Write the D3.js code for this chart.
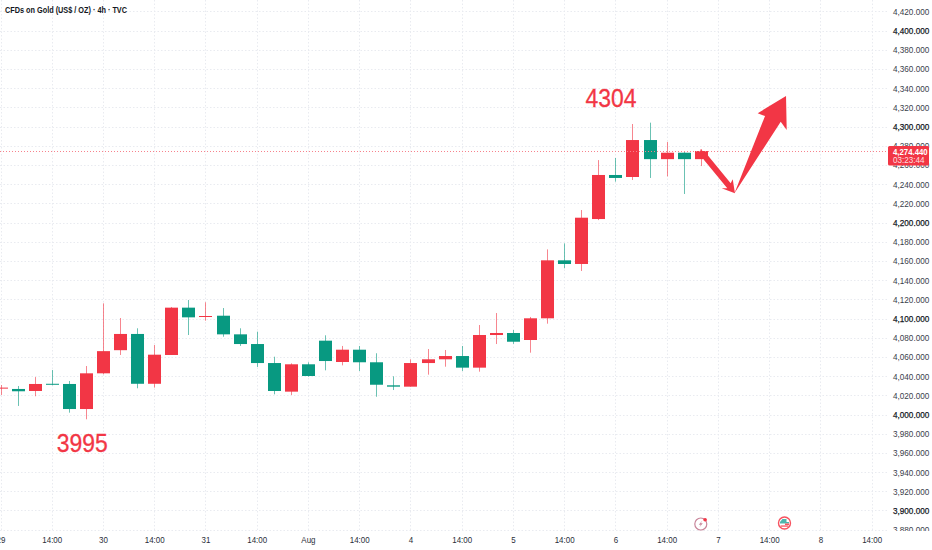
<!DOCTYPE html>
<html>
<head>
<meta charset="utf-8">
<script src="https://cdn.jsdelivr.net/npm/d3@7.9.0/dist/d3.min.js"></script>
<style>
  html, body { margin: 0; padding: 0; background: #fff; }
  svg { display: block; font-family: "Liberation Sans", sans-serif; }
</style>
</head>
<body>
<svg id="chart" width="932" height="550"></svg>
<script>
const opens = [4027.3, 4026.6, 4024.5, 4032, 4031.8, 4005.7, 4042.9, 4067, 4083.9, 4032, 4062, 4111.3, 4102, 4102.9, 4083.5, 4073.4, 4053.6, 4023.8, 4052.3, 4076.9, 4054.7, 4067.5, 4054.4, 4030.4, 4029, 4053.6, 4057.5, 4060.9, 4048.8, 4082.8, 4084.9, 4077.6, 4100.2, 4160.6, 4156.8, 4203.6, 4249.5, 4247.4, 4285.9, 4266, 4272.7, 4266];
const highs = [4030.7, 4029.7, 4039, 4046.4, 4034.9, 4050.5, 4115.8, 4100.5, 4089.8, 4072.4, 4112, 4119.3, 4116.9, 4110.9, 4089.8, 4086.3, 4060.2, 4053.3, 4054.4, 4082.5, 4071.4, 4071.4, 4063.8, 4039.8, 4057.5, 4068.2, 4067.2, 4071.4, 4093.2, 4105.7, 4088, 4101.6, 4172, 4178.3, 4213, 4265, 4267.2, 4302.6, 4304, 4283.9, 4273.7, 4276.5];
const lows = [4020.3, 4008.9, 4019, 4030.5, 4001.9, 3995, 4041.9, 4062, 4027.3, 4028, 4062, 4082.8, 4097.7, 4081, 4071.4, 4049.5, 4021, 4020.3, 4039.4, 4046, 4051.2, 4045.3, 4018.5, 4025.5, 4029, 4041.5, 4049.8, 4045.3, 4044.6, 4073.4, 4073.6, 4064.4, 4094.6, 4152.3, 4149.5, 4202.5, 4242.5, 4244.3, 4246.4, 4248, 4229.7, 4258.8];
const closes = [4028, 4024.2, 4031.8, 4031, 4005.7, 4042.9, 4066, 4083.9, 4032, 4062.3, 4111.3, 4101.2, 4102.6, 4083.5, 4073.4, 4053.6, 4024.5, 4052.3, 4040.1, 4055.7, 4067.5, 4054.4, 4031, 4029, 4053.6, 4057.5, 4060.9, 4048.8, 4082.8, 4084.9, 4075.8, 4100.2, 4160.6, 4156.8, 4205, 4249.5, 4246.4, 4285.9, 4266, 4272.7, 4266, 4274.44];

const timeTicks = [0, 3, 6, 9, 12, 15, 18, 21, 24, 27, 30, 33, 36, 39, 42, 45, 48, 51];
const timeLabels = ['29', '14:00', '30', '14:00', '31', '14:00', 'Aug', '14:00', '4', '14:00', '5', '14:00', '6', '14:00', '7', '14:00', '8', '14:00'];
const priceTicks = d3.range(3880, 4421, 20);

const lastPrice = 4274.44;
const countdown = '03:23:44';

// hand drawn arrows, [candle index, price]
const arrowDown = [[40.95, 4276.3], [41.31, 4272.1], [42.75, 4240.8], [42.87, 4245], [43, 4230.4], [42.22, 4235.6], [42.55, 4235.6], [41.19, 4265.1]];
const arrowUp = [[42.97, 4230.4], [44.76, 4310.9], [44.33, 4313.8], [45.99, 4331.8], [46.03, 4296.4], [45.68, 4305]];

const notes = [
  { text: '4304', i: 34.25, price: 4320.5 },
  { text: '3995', i: 3.3, price: 3961 },
];

const red = '#f23645';
const green = '#089981';

const plotRight = 888;
const plotBottom = 531;

const x = d3.scaleLinear().domain([0, 51]).range([0.5, 871.6]);
const y = d3.scaleLinear().domain([4000, 4300]).range([414.5, 126.5]);

const svg = d3.select('#chart');

// the labels are a narrower face than any installed one
function squeeze(sel, k) {
  sel.each(function () {
    this.setAttribute('textLength', this.getComputedTextLength() * k);
    this.setAttribute('lengthAdjust', 'spacingAndGlyphs');
  });
}

// grid
const grid = svg.append('g').attr('stroke', '#e9ebf0').attr('stroke-dasharray', '1.5 2');
grid.selectAll('.h').data(priceTicks).join('line').attr('class', 'h')
  .attr('x1', 0).attr('x2', plotRight).attr('y1', (d) => Math.round(y(d)) + 0.5).attr('y2', (d) => Math.round(y(d)) + 0.5);
grid.selectAll('.v').data(timeTicks).join('line').attr('class', 'v')
  .attr('y1', 0).attr('y2', plotBottom).attr('x1', (d) => Math.round(x(d)) + 0.5).attr('x2', (d) => Math.round(x(d)) + 0.5);

// price axis
const yAxis = d3.axisRight(y).tickValues(priceTicks).tickSize(0).tickPadding(0).tickFormat(d3.format(',.3f'));
const yG = svg.append('g').attr('transform', 'translate(893,0)').call(yAxis);
yG.select('.domain').remove();
yG.selectAll('text').attr('font-family', '"Liberation Sans", sans-serif').attr('font-size', 9.4)
  .attr('fill', (d) => (d % 100 === 0 ? '#131722' : '#3a3e4a'))
  .attr('stroke', (d) => (d % 100 === 0 ? '#131722' : 'none')).attr('stroke-width', 0.25)
  .call(squeeze, 0.87);

// time scale panel hides the bottom of the lowest price label
svg.append('rect').attr('x', plotRight).attr('y', plotBottom).attr('width', 44).attr('height', 19).attr('fill', '#fff');

// time axis
const xAxis = d3.axisBottom(x).tickValues(timeTicks).tickSize(0).tickPadding(0).tickFormat((d, k) => timeLabels[k]);
const xG = svg.append('g').attr('transform', 'translate(0,536)').call(xAxis);
xG.select('.domain').remove();
xG.selectAll('text').attr('font-family', '"Liberation Sans", sans-serif').attr('font-size', 9.4).attr('fill', '#2a2e39')
  .call(squeeze, 0.85);

// candles
const candles = d3.range(opens.length);
const colorOf = (i) => (closes[i] >= opens[i] ? red : green);
svg.append('g').selectAll('line').data(candles).join('line')
  .attr('x1', (i) => Math.round(x(i)) + 0.5).attr('x2', (i) => Math.round(x(i)) + 0.5)
  .attr('y1', (i) => y(highs[i])).attr('y2', (i) => y(lows[i]))
  .attr('stroke', colorOf).attr('stroke-opacity', 0.6);
svg.append('g').selectAll('rect').data(candles).join('rect')
  .attr('x', (i) => Math.round(x(i)) - 6).attr('width', 13)
  .attr('y', (i) => y(Math.max(opens[i], closes[i])))
  .attr('height', (i) => Math.max(1, Math.abs(y(opens[i]) - y(closes[i]))))
  .attr('fill', colorOf);

// last price line
svg.append('line').attr('x1', 0).attr('x2', plotRight)
  .attr('y1', Math.round(y(lastPrice)) + 0.5).attr('y2', Math.round(y(lastPrice)) + 0.5)
  .attr('stroke', '#f7828c').attr('stroke-dasharray', '1 2');

// arrows
const line = d3.line().x((d) => x(d[0])).y((d) => y(d[1])).curve(d3.curveLinearClosed);
svg.append('path').attr('d', line(arrowDown)).attr('fill', red);
svg.append('path').attr('d', line(arrowUp)).attr('fill', red);

// annotations
svg.append('g').selectAll('text').data(notes).join('text')
  .attr('x', (d) => x(d.i)).attr('y', (d) => y(d.price))
  .attr('font-size', 25).attr('fill', red).attr('stroke', red).attr('stroke-width', 0.3)
  .attr('textLength', 51).attr('lengthAdjust', 'spacingAndGlyphs')
  .text((d) => d.text);

// title
svg.append('text').attr('x', 5).attr('y', 13).attr('font-size', 9.6).attr('font-weight', 700)
  .attr('fill', '#131722').attr('textLength', 122).attr('lengthAdjust', 'spacingAndGlyphs')
  .text('CFDs on Gold (US$ / OZ) · 4h · TVC');

// price label
const tag = svg.append('g').attr('transform', `translate(888,${Math.round(y(lastPrice)) - 5})`);
tag.append('rect').attr('width', 41).attr('height', 19.5).attr('rx', 1.5).attr('fill', red);
tag.append('text').attr('x', 5).attr('y', 8.5).attr('font-size', 9.4).attr('font-weight', 700).attr('fill', '#fff')
  .text(d3.format(',.3f')(lastPrice)).call(squeeze, 0.83);
tag.append('text').attr('x', 5).attr('y', 17).attr('font-size', 9).attr('fill', '#fff').attr('fill-opacity', 0.85)
  .text(countdown).call(squeeze, 0.9);

// event icons on the time scale
const bolt = svg.append('g').attr('transform', `translate(${x(41)},524)`);
bolt.append('circle').attr('r', 6).attr('fill', '#fff').attr('stroke', '#c9869b').attr('stroke-width', 1.2);
bolt.append('path').attr('d', 'M1.5,-3.5 L-2,0.7 L0,0.7 L-1.5,3.5 L2,-0.7 L0,-0.7 Z').attr('fill', '#c9869b');
bolt.append('circle').attr('cx', 4.3).attr('cy', -4.3).attr('r', 1.8).attr('fill', red);

const flag = svg.append('g').attr('transform', `translate(${x(45.9)},523)`);
flag.append('circle').attr('r', 6).attr('fill', '#fff').attr('stroke', '#f7525f').attr('stroke-width', 1.4);
flag.append('path').attr('d', 'M-4.5,-1 L-2,-4 L2,-4 L2,-1 Z M-4.5,-1 L4.5,-1 L4.5,0.5 L-4.5,0.5 Z').attr('fill', '#4db6ac');
flag.append('rect').attr('x', 0.5).attr('y', 0.5).attr('width', 4).attr('height', 1.5).attr('fill', '#f7525f');
flag.append('rect').attr('x', -4).attr('y', 2.4).attr('width', 8).attr('height', 1.3).attr('fill', '#f7525f');
</script>
</body>
</html>
